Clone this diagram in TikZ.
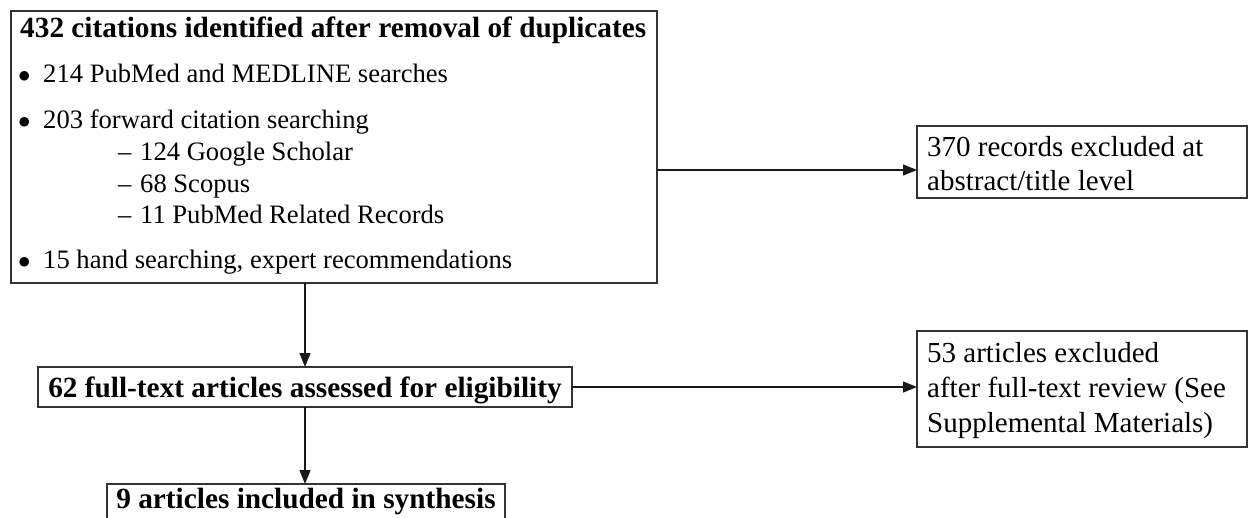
\documentclass[tikz,border=0pt]{standalone}
\usepackage{fontspec}
\setmainfont{Liberation Serif}
\usetikzlibrary{arrows.meta}
\begin{document}
\begin{tikzpicture}[x=1pt,y=-1pt,
  frame/.style={draw=black!80, line width=1.7pt, inner sep=0pt, outer sep=0pt, rectangle},
  conn/.style={draw=black!90, line width=1.3pt, -{Triangle[length=14pt,width=11pt]}},
  txt/.style={anchor=base west, inner sep=0pt, font=\fontsize{26.6}{32}\selectfont},
  txtb/.style={anchor=base west, inner sep=0pt, font=\fontsize{29.3}{34}\selectfont\bfseries},
  txtr/.style={anchor=base west, inner sep=0pt, font=\fontsize{29}{34}\selectfont},
]
\useasboundingbox (0,0) rectangle (1248,517);
% boxes
\node[frame, minimum width=646pt, minimum height=272pt] (main) at (334,147) {};
\node[frame, minimum width=330pt, minimum height=72pt] (ex1) at (1082,162) {};
\node[frame, minimum width=534pt, minimum height=40pt] (ft) at (305,387) {};
\node[frame, minimum width=330pt, minimum height=116pt] (ex2) at (1082,389) {};
\node[frame, minimum width=398pt, minimum height=56pt] (inc) at (306,512) {};
% texts in main box
\node[txtb] (t0) at (20,37) {432 citations identified after removal of duplicates};
\node[txt] (b1) at (18,82) {$\bullet$};
\node[txt] (t1) at (43,82) {214 PubMed and MEDLINE searches};
\node[txt] (b2) at (18,128) {$\bullet$};
\node[txt] (t2) at (43,128) {203 forward citation searching};
\node[txt] (d1) at (118,160) {–};
\node[txt] (s1) at (140,160) {124 Google Scholar};
\node[txt] (d2) at (118,192) {–};
\node[txt] (s2) at (140,192) {68 Scopus};
\node[txt] (d3) at (118,223) {–};
\node[txt] (s3) at (140,223) {11 PubMed Related Records};
\node[txt] (b3) at (18,268) {$\bullet$};
\node[txt] (t3) at (43,268) {15 hand searching, expert recommendations};
% other texts
\node[txtr] (e1a) at (927,156) {370 records excluded at};
\node[txtr] (e1b) at (927,190) {abstract/title level};
\node[txtr] (e2a) at (927,362) {53 articles excluded};
\node[txtr] (e2b) at (927,397) {after full-text review (See};
\node[txtr] (e2c) at (927,432) {Supplemental Materials)};
\node[txtb, anchor=base] (ftt) at (305,397) {62 full-text articles assessed for eligibility};
\node[txtb, anchor=base] (inct) at (306,508) {9 articles included in synthesis};
% connectors
\coordinate (a1) at (0,170);
\draw[conn] (ft.north |- main.south) -- (ft.north);
\draw[conn] (ft.south) -- (inc.north -| ft.south);
\draw[conn] (main.east |- a1) -- (ex1.west |- a1);
\draw[conn] (ft.east) -- (ex2.west |- ft.east);
\end{tikzpicture}
\end{document}
